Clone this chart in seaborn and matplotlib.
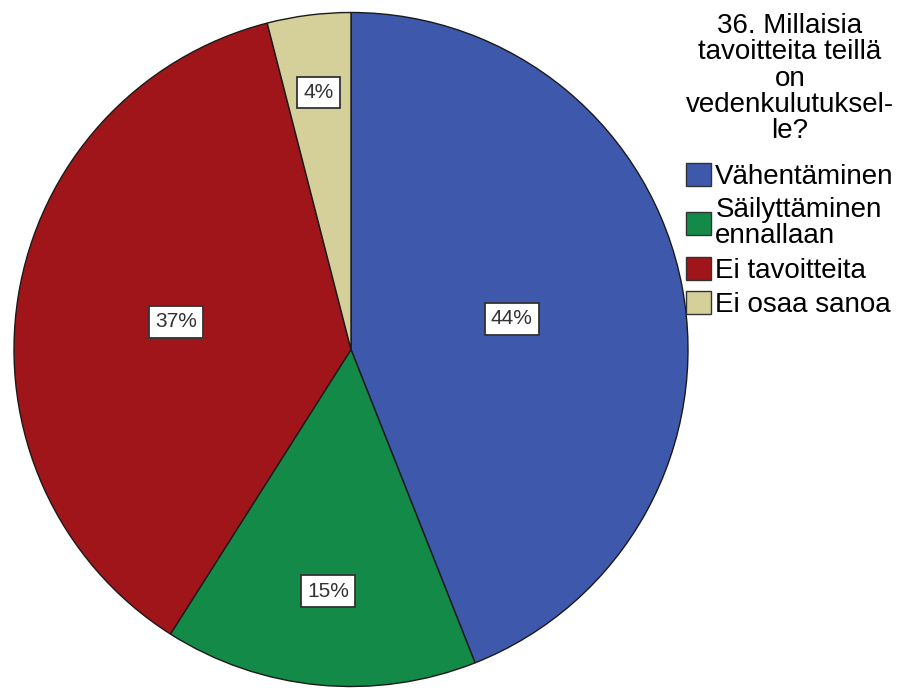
import matplotlib
matplotlib.use("Agg")
import matplotlib.pyplot as plt
import seaborn as sns

categories = ["Vähentäminen", "Säilyttäminen\nennallaan", "Ei tavoitteita", "Ei osaa sanoa"]
percents = [44, 15, 37, 4]
colors = ["#3E58AC", "#138A48", "#A01519", "#D5CF9A"]
legend_title = "36. Millaisia\ntavoitteita teillä\non\nvedenkulutuksel-\nle?"

sns.set_style("white")
plt.rcParams['font.family'] = ['Liberation Sans', 'DejaVu Sans']

fig = plt.figure(figsize=(9.03, 6.88), dpi=100)
ax = fig.add_axes([14 / 903, 1 / 688, 674 / 903, 675 / 688])

palette = sns.color_palette(colors)
wedges, texts, autotexts = ax.pie(
    percents, colors=palette, startangle=90, counterclock=False,
    autopct='%d%%', pctdistance=0.6,
    wedgeprops=dict(edgecolor='#1a1a1a', linewidth=1.0),
    textprops=dict(fontsize=15, color='#333333'),
)

# SPSS-style label distances from the centre
label_dist = [0.486, 0.72, 0.526, 0.769]
for t, d in zip(autotexts, label_dist):
    x, y = t.get_position()
    r = (x ** 2 + y ** 2) ** 0.5
    t.set_position((x / r * d, y / r * d))
    t.set_bbox(dict(facecolor='white', edgecolor='#333333', linewidth=1.3, boxstyle='square,pad=0.3'))

ax.set_xlim(-1.0, 1.0)
ax.set_ylim(-1.0, 1.0)
ax.set_aspect('equal')
ax.axis('off')

leg = fig.legend(wedges, categories, title=legend_title, loc='upper center',
                 bbox_to_anchor=(790 / 903, 1 + 1 / 688), frameon=False,
                 fontsize=20, title_fontsize=20, borderpad=0,
                 handlelength=0.9, handleheight=0.9, handletextpad=0.15,
                 labelspacing=0.26, labelcolor='black')
title = leg.get_title()
title.set_multialignment('center')
title.set_linespacing(1.02)
title.set_color('black')
for t in leg.get_texts():
    t.set_linespacing(1.02)
for h in leg.legend_handles:
    h.set_edgecolor('#333333')
    h.set_linewidth(1.0)
# wider gap between the title and the entries
leg._legend_box.sep = 13

fig.savefig("out.png", dpi=100)
